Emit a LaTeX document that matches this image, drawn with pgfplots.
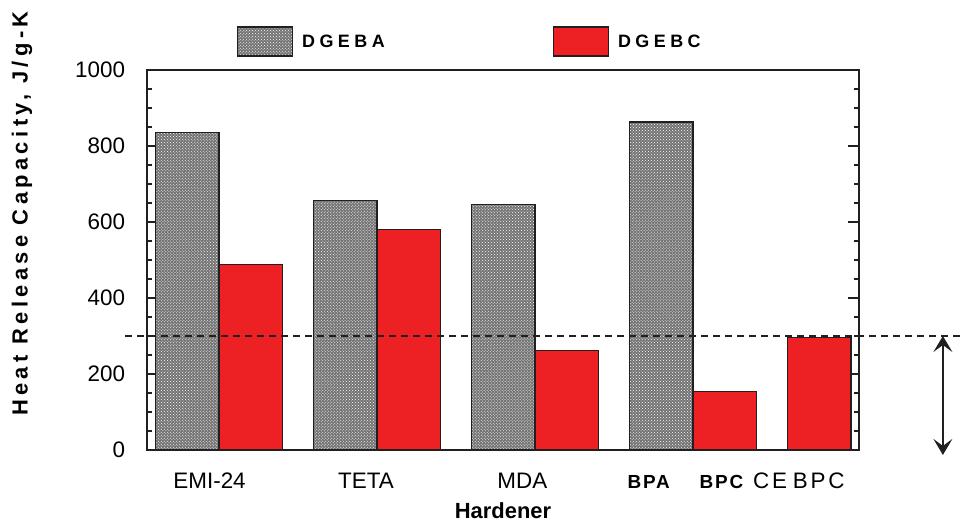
\documentclass[border=0pt]{standalone}
\usepackage{fontspec}
\setmainfont{Liberation Sans}
\usepackage{pgfplots}
\pgfplotsset{compat=1.18}
\usetikzlibrary{patterns, arrows.meta}

\definecolor{barred}{RGB}{237,33,36}
\definecolor{ink}{RGB}{35,31,32}

\newcommand{\tickfont}{\fontsize{22.5}{27}\selectfont}
\newcommand{\bpfont}{\fontsize{19}{22}\selectfont\bfseries\addfontfeature{LetterSpace=10}}
\newcommand{\cefont}{\addfontfeature{LetterSpace=12}}
\newcommand{\legfont}{\fontsize{18}{21}\selectfont\bfseries\addfontfeature{LetterSpace=25}}
\newcommand{\ylabfont}{\fontsize{22}{26}\selectfont\bfseries\addfontfeature{LetterSpace=20}}

\begin{document}
\begin{tikzpicture}
\begin{axis}[
  name=ax,
  scale only axis,
  width=712bp, height=380bp,
  xmin=0.544, xmax=5.051,
  ymin=0, ymax=1000,
  clip=false,
  ybar, bar width=0.4, bar shift=0pt,
  axis line style={line width=1.3bp, ink},
  ytick={0,200,400,600,800,1000},
  minor y tick num=3,
  major tick length=11bp, minor tick length=5bp,
  every tick/.style={ink, line width=1.1bp},
  xtick={0.94,1.93,2.92,3.72,4.18,4.67},
  xticklabels={EMI-24, TETA, MDA, {\bpfont BPA}, {\bpfont BPC}, {\cefont CE\hspace{6bp}BPC}},
  xtick style={draw=none},
  xticklabel style={anchor=base, yshift=-27bp, font=\tickfont},
  yticklabel style={xshift=-18.5bp, font=\tickfont},
  /pgf/number format/assume math mode=true,
  /pgf/number format/1000 sep={},
  ylabel={Heat Release Capacity, J/g-K},
  ylabel style={at={(axis description cs:-0.1756,0.622)}, anchor=center, font=\ylabfont},
  xlabel={Hardener},
  xlabel style={at={(axis description cs:0.5,-0.16)}, anchor=center, font=\fontsize{22}{26}\selectfont\bfseries},
  legend columns=2,
  legend style={at={(axis description cs:0.126,1.075)}, anchor=west, draw=none, fill=none,
    inner sep=0pt, font=\legfont,
    nodes={inner xsep=9bp},
    /tikz/every even column/.append style={column sep=159bp}},
  legend image code/.code={\draw[#1, line width=1.2bp] (0bp,-14.5bp) rectangle (55bp,14.5bp);},
]
% DGEBA cured with each hardener
\addplot[bar shift=0pt, draw=ink, line width=1.2bp, fill=black!55,
  postaction={pattern=crosshatch dots, pattern color=white}]
  coordinates {(0.8,835) (1.8,657) (2.8,646) (3.8,863)};
\addlegendentry{DGEBA}
% DGEBC cured with each hardener
\addplot[bar shift=0pt, draw=ink, line width=1.2bp, fill=barred]
  coordinates {(1.2,488) (2.2,580) (3.2,261) (4.2,155) (4.8,295)};
\addlegendentry{DGEBC}
% reference level at 300 J/g-K
\addplot[sharp plot, forget plot, ink, line width=1.1bp, dash pattern=on 7bp off 5bp]
  coordinates {(0.405,300) (5.72,300)};
\draw[{Stealth[length=16bp,width=19bp,inset=7bp]}-{Stealth[length=16bp,width=19bp,inset=7bp]}, line width=1.4bp, ink]
  (axis cs:5.582,300) -- (axis cs:5.582,-13);
\end{axis}
\pgfresetboundingbox
\path ([xshift=-147bp,yshift=-72bp]ax.south west) rectangle ([xshift=106bp,yshift=70bp]ax.north east);
\end{tikzpicture}
\end{document}
